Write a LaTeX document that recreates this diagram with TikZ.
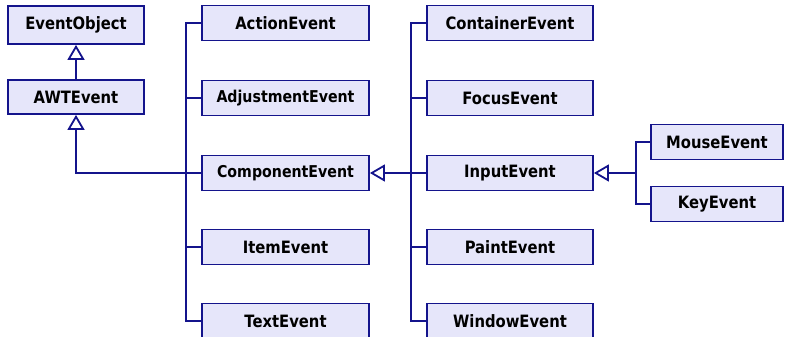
\documentclass[tikz,border=0pt]{standalone}
\usepackage{fontspec}
\setmainfont{DejaVu Sans}[FakeStretch=0.87]
\usepackage{tikz}
\usetikzlibrary{arrows.meta}
\definecolor{umlblue}{RGB}{20,20,140}
\definecolor{umlfill}{RGB}{230,230,250}
\tikzstyle{cls} = [draw=umlblue, fill=umlfill, line width=1.8pt, minimum height=35pt, inner sep=0pt, font=\bfseries\fontsize{17}{20}\selectfont]
\tikzstyle{small} = [font=\bfseries\fontsize{16.3}{19}\selectfont]
\tikzstyle{branch} = [draw=umlblue, line width=1.8pt]
\tikzstyle{ext} = [draw=umlblue, line width=2.8pt, -{Triangle[open, length=15pt, width=17pt, line width=1.8pt, fill=white]}]

\begin{document}
\begin{tikzpicture}[x=1pt, y=-1pt]
						\useasboundingbox (0,0) rectangle (785,337);
						\node[cls, minimum width=136pt, minimum height=38pt](eventobj) at (76, 25){EventObject};
						\node[cls, minimum width=136pt, minimum height=34pt](awt) at (76, 97){AWTEvent};
						
						\node[cls, minimum width=167pt](action) at (285.5, 23){ActionEvent};
						\node[cls, small, minimum width=167pt](adjust) at (285.5, 98){AdjustmentEvent};
						\node[cls, small, minimum width=167pt](component) at (285.5, 173){ComponentEvent};
						\node[cls, minimum width=167pt](item) at (285.5, 247){ItemEvent};
						\node[cls, minimum width=167pt](text) at (285.5, 321){TextEvent};
						
						\node[cls, minimum width=166pt](container) at (510, 23){ContainerEvent};
						\node[cls, minimum width=166pt](focus) at (510, 98){FocusEvent};
						\node[cls, minimum width=166pt](input) at (510, 173){InputEvent};
						\node[cls, minimum width=166pt](paint) at (510, 247){PaintEvent};
						\node[cls, minimum width=166pt](window) at (510, 321){WindowEvent};
						
						\node[cls, minimum width=132pt](mouse) at (717, 142){MouseEvent};
						\node[cls, minimum width=132pt](key) at (717, 204){KeyEvent};
						
						\coordinate(j1) at (186, 173);
						\coordinate(j2) at (411, 173);
						\coordinate(j3) at (636, 173);
						
						\draw[branch](j1) |- (action.west);
						\draw[branch](j1) |- (adjust.west);
						\draw[branch](j1) -- (component.west);
						\draw[branch](j1) |- (item.west);
						\draw[branch](j1) |- (text.west);
						
						\draw[branch](j2) |- (container.west);
						\draw[branch](j2) |- (focus.west);
						\draw[branch](j2) -- (input.west);
						\draw[branch](j2) |- (paint.west);
						\draw[branch](j2) |- (window.west);
						
						\draw[branch](j3) |- (mouse.west);
						\draw[branch](j3) |- (key.west);
						
						\draw[ext, line width=1.8pt](awt) -- (eventobj);
						\draw[ext](j1) -| (awt);
						\draw[ext](j2) -- (component);
						\draw[ext](j3) -- (input);
					\end{tikzpicture}
\end{document}
